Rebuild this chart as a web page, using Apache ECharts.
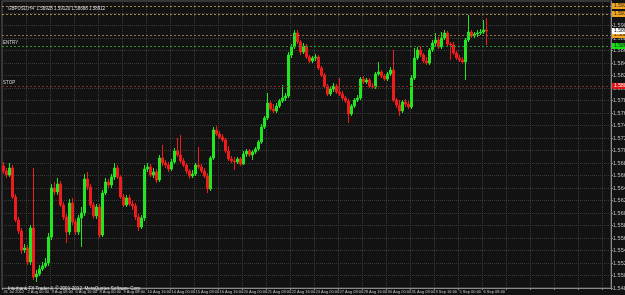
<!DOCTYPE html>
<html><head><meta charset="utf-8">
<script src="https://cdn.jsdelivr.net/npm/echarts@6/dist/echarts.min.js"></script>
<style>html,body{margin:0;padding:0;background:#121212;}#c{width:625px;height:295px;}</style>
</head><body><div id="c"></div>
<script>
const symbolTitle = 'GBPUSD,H4';
const copyrightText = 'Interbank FX Trader 4, \u00a9 2001-2012, MetaQuotes Software Corp.';
const tickLabels = ['31 Jul 2012','2 Aug 00:00','3 Aug 08:00','6 Aug 16:00','8 Aug 00:00','9 Aug 08:00','10 Aug 16:00','14 Aug 00:00','15 Aug 08:00','16 Aug 16:00','20 Aug 00:00','21 Aug 08:00','22 Aug 16:00','24 Aug 00:00','27 Aug 08:00','28 Aug 16:00','30 Aug 00:00','31 Aug 08:00','3 Sep 16:00','5 Sep 00:00','6 Sep 08:00'];
const barsPerLabel = 8;
const barSlots = 203;

const opens = [1.56752,1.56672,1.56608,1.56720,1.56256,1.55888,1.55712,1.55408,1.55440,1.55216,
1.55760,1.54976,1.55024,1.55104,1.55152,1.55200,1.55616,1.56400,1.56336,1.56464,
1.56128,1.55936,1.55696,1.56160,1.55856,1.55696,1.55920,1.56000,1.56544,1.56416,
1.56128,1.55952,1.56096,1.55648,1.56320,1.56496,1.56448,1.56576,1.56720,1.56576,
1.56256,1.56128,1.56240,1.56144,1.56112,1.55936,1.55776,1.55920,1.56704,1.56736,
1.56608,1.56656,1.56528,1.56880,1.56800,1.56768,1.56704,1.56816,1.56992,1.56928,
1.56832,1.56768,1.56672,1.56592,1.56624,1.56768,1.56736,1.56672,1.56592,1.56384,
1.56880,1.57328,1.57264,1.57216,1.57168,1.56992,1.56864,1.56832,1.56816,1.56864,
1.56784,1.56944,1.56992,1.56928,1.56976,1.57024,1.57136,1.57376,1.57520,1.57760,
1.57664,1.57632,1.57712,1.57792,1.57840,1.57872,1.58528,1.58656,1.58880,1.58736,
1.58576,1.58672,1.58496,1.58432,1.58480,1.58496,1.58320,1.58208,1.58032,1.57904,
1.57984,1.58032,1.57936,1.57904,1.57840,1.57792,1.57584,1.57712,1.57808,1.57840,
1.58144,1.58096,1.58128,1.58032,1.58016,1.58224,1.58256,1.58192,1.58144,1.58224,
1.58288,1.57808,1.57728,1.57632,1.57776,1.57744,1.57696,1.58160,1.58480,1.58608,
1.58528,1.58432,1.58400,1.58608,1.58720,1.58768,1.58656,1.58800,1.58880,1.58704,
1.58688,1.58560,1.58480,1.58448,1.58416,1.58768,1.58896,1.58832,1.58864,1.58880,
1.58896,1.58928];

const closes = [1.56672,1.56608,1.56720,1.56256,1.55888,1.55712,1.55408,1.55440,1.55216,1.55760,
1.54976,1.55024,1.55104,1.55152,1.55200,1.55616,1.56400,1.56336,1.56464,1.56128,
1.55936,1.55696,1.56160,1.55856,1.55696,1.55920,1.56000,1.56544,1.56416,1.56128,
1.55952,1.56096,1.55648,1.56320,1.56496,1.56448,1.56576,1.56720,1.56576,1.56256,
1.56128,1.56240,1.56144,1.56112,1.55936,1.55776,1.55920,1.56704,1.56736,1.56608,
1.56656,1.56528,1.56880,1.56800,1.56768,1.56704,1.56816,1.56992,1.56928,1.56832,
1.56768,1.56672,1.56592,1.56624,1.56768,1.56736,1.56672,1.56592,1.56384,1.56880,
1.57328,1.57264,1.57216,1.57168,1.56992,1.56864,1.56832,1.56816,1.56864,1.56784,
1.56944,1.56992,1.56928,1.56976,1.57024,1.57136,1.57376,1.57520,1.57760,1.57664,
1.57632,1.57712,1.57792,1.57840,1.57872,1.58528,1.58656,1.58880,1.58736,1.58576,
1.58672,1.58496,1.58432,1.58480,1.58496,1.58320,1.58208,1.58032,1.57904,1.57984,
1.58032,1.57936,1.57904,1.57840,1.57792,1.57584,1.57712,1.57808,1.57840,1.58144,
1.58096,1.58128,1.58032,1.58016,1.58224,1.58256,1.58192,1.58144,1.58224,1.58288,
1.57808,1.57728,1.57632,1.57776,1.57744,1.57696,1.58160,1.58480,1.58608,1.58528,
1.58432,1.58400,1.58608,1.58720,1.58768,1.58656,1.58800,1.58880,1.58704,1.58688,
1.58560,1.58480,1.58448,1.58416,1.58768,1.58896,1.58832,1.58864,1.58880,1.58896,
1.58928,1.58912];

const highs = [1.56816,1.56720,1.56800,1.56768,1.56304,1.55936,1.55760,1.55504,1.55488,1.55808,
1.56720,1.55088,1.55168,1.55216,1.55280,1.55680,1.56464,1.56496,1.56560,1.56512,
1.56176,1.55984,1.56224,1.56240,1.55904,1.55968,1.56096,1.56624,1.56656,1.56464,
1.56176,1.56144,1.56144,1.56368,1.56560,1.56544,1.56624,1.56800,1.56768,1.56608,
1.56304,1.56288,1.56288,1.56208,1.56160,1.55984,1.55968,1.56768,1.56800,1.56784,
1.56720,1.56704,1.56928,1.57088,1.56848,1.56816,1.56864,1.57040,1.57200,1.57248,
1.56880,1.56800,1.56704,1.56688,1.56800,1.57056,1.56784,1.56720,1.56640,1.56912,
1.57376,1.57392,1.57312,1.57264,1.57200,1.57072,1.56912,1.56896,1.56896,1.56896,
1.56992,1.57024,1.57024,1.57008,1.57056,1.57168,1.57424,1.57552,1.57920,1.57792,
1.57744,1.57760,1.57824,1.58048,1.57920,1.58576,1.58704,1.58928,1.58928,1.58768,
1.58720,1.58704,1.58528,1.58512,1.58544,1.58528,1.58352,1.58240,1.58064,1.58032,
1.58080,1.58064,1.58160,1.57952,1.57872,1.57824,1.57744,1.57840,1.57888,1.58176,
1.58192,1.58160,1.58160,1.58080,1.58256,1.58416,1.58288,1.58224,1.58256,1.58336,
1.58608,1.57840,1.57808,1.57808,1.57824,1.57792,1.58208,1.58640,1.58656,1.58672,
1.58560,1.58496,1.58640,1.58768,1.58880,1.58816,1.58896,1.58928,1.58912,1.58736,
1.58736,1.58592,1.58528,1.58496,1.58800,1.59168,1.58928,1.58896,1.58928,1.58944,
1.59088,1.59120];

const lows = [1.56624,1.56560,1.56576,1.56224,1.55856,1.55664,1.55344,1.55360,1.55168,1.55168,
1.54928,1.54896,1.54992,1.55072,1.55120,1.55152,1.55568,1.56288,1.56288,1.56096,
1.55888,1.55520,1.55648,1.55808,1.55648,1.55648,1.55456,1.55952,1.56368,1.56080,
1.55904,1.55904,1.55600,1.55616,1.56288,1.56400,1.56400,1.56528,1.56544,1.56224,
1.56096,1.56096,1.56112,1.56048,1.55888,1.55712,1.55744,1.55872,1.56656,1.56576,
1.56560,1.56480,1.56496,1.56752,1.56720,1.56656,1.56672,1.56784,1.56896,1.56800,
1.56736,1.56624,1.56544,1.56560,1.56592,1.56704,1.56640,1.56560,1.56320,1.56352,
1.56848,1.57232,1.57184,1.57136,1.56960,1.56832,1.56800,1.56688,1.56784,1.56752,
1.56768,1.56896,1.56896,1.56848,1.56944,1.56992,1.57104,1.57344,1.57488,1.57632,
1.57600,1.57600,1.57680,1.57760,1.57792,1.57840,1.58480,1.58624,1.58704,1.58528,
1.58544,1.58464,1.58400,1.58400,1.58432,1.58288,1.58176,1.58000,1.57872,1.57872,
1.57936,1.57904,1.57872,1.57808,1.57760,1.57440,1.57552,1.57680,1.57776,1.57808,
1.58064,1.58064,1.58000,1.57984,1.57984,1.58192,1.58160,1.58112,1.58112,1.58192,
1.57776,1.57680,1.57552,1.57600,1.57696,1.57664,1.57664,1.58128,1.58448,1.58496,
1.58400,1.58368,1.58368,1.58576,1.58672,1.58624,1.58624,1.58768,1.58672,1.58448,
1.58528,1.58448,1.58416,1.58384,1.58128,1.58736,1.58800,1.58800,1.58816,1.58848,
1.58864,1.58688];

const orangeLevels = [1.59312, 1.59184, 1.58848];
const entryPrice = 1.58672;
const stopPrice = 1.58032;

const yMin = 1.548, yMax = 1.59392, yStep = 0.002;

const FONT = 'Liberation Sans';
const CLEAR = 'rgba(0,0,0,0)';
const last = opens.length - 1;
const bidPrice = closes[last];
const headline = symbolTitle + '  ' + [opens[last], highs[last], lows[last], closes[last]].map(v => v.toFixed(5)).join(' ');

const slots = Array.from({length: barSlots}, (_, i) => String(i));
const candles = opens.map((o, i) => [o, closes[i], lows[i], highs[i]]);

function priceTag(v, bg, fg, lineColor) {
  return {
    name: 'tag' + v,
    yAxis: v,
    lineStyle: {color: lineColor, type: [2, 2], width: 1},
    label: {show: true, position: 'end', distance: 1, formatter: v.toFixed(5),
      backgroundColor: bg, color: fg, fontSize: 5, fontFamily: FONT, padding: [1, 6, 0, 2]}
  };
}
function sideText(v, txt) {
  return {
    name: 'txt' + txt,
    yAxis: v,
    lineStyle: {color: CLEAR, width: 1},
    label: {show: true, position: 'insideStartTop', distance: 1, formatter: txt,
      color: '#d8d8d8', fontSize: 4.5, fontFamily: FONT}
  };
}

const chart = echarts.init(document.getElementById('c'), null, {renderer: 'canvas'});
chart.setOption({
  backgroundColor: '#121212',
  animation: false,
  title: [
    {text: headline, left: 3, top: 1, textStyle: {color: '#dcdcdc', fontSize: 4.5, fontWeight: 'normal', fontFamily: FONT}},
    {text: copyrightText, left: 3, top: 281, textStyle: {color: '#e6e6e6', fontSize: 4.6, fontWeight: 'normal', fontFamily: FONT}}
  ],
  grid: {left: 2, right: 14, top: 1, bottom: 7, containLabel: false, outerBoundsMode: 'none',
    show: true, borderColor: '#5a5a5a', borderWidth: 1, backgroundColor: 'transparent'},
  xAxis: {
    type: 'category', data: slots, boundaryGap: true,
    axisLine: {show: true, lineStyle: {color: '#8a8a8a', width: 1}},
    axisTick: {show: true, interval: barsPerLabel - 1, length: 2, lineStyle: {color: '#8a8a8a'}},
    axisLabel: {
      interval: barsPerLabel - 1, align: 'left', margin: 2, fontSize: 4, color: '#c4c4c4', fontFamily: FONT,
      formatter: (v, idx) => (idx % barsPerLabel === 0 && idx / barsPerLabel < tickLabels.length) ? tickLabels[idx / barsPerLabel] : ''
    },
    splitLine: {show: true, interval: barsPerLabel - 1, lineStyle: {color: '#3a3a3a', type: 'dotted', width: 1}}
  },
  yAxis: {
    type: 'value', position: 'right', min: yMin, max: yMax, interval: yStep,
    axisLine: {show: true, lineStyle: {color: '#8a8a8a', width: 1}},
    axisTick: {show: true, length: 2, lineStyle: {color: '#8a8a8a'}},
    axisLabel: {fontSize: 5.5, color: '#c4c4c4', margin: 2, fontFamily: FONT, showMaxLabel: false,
      formatter: v => v.toFixed(5)},
    splitLine: {show: true, lineStyle: {color: '#3a3a3a', type: 'dotted', width: 1}}
  },
  series: [
    {
      type: 'candlestick', data: candles, barWidth: 2,
      itemStyle: {color: '#22e622', color0: '#f01c1c', borderColor: '#22e622', borderColor0: '#f01c1c', borderWidth: 1},
      markLine: {
        symbol: 'none', silent: true, animation: false, precision: 5,
        data: [
          priceTag(orangeLevels[0], '#f2a421', '#1a1a1a', '#a8844a'),
          priceTag(orangeLevels[1], '#f2a421', '#1a1a1a', '#a8844a'),
          priceTag(orangeLevels[2], '#f2a421', '#1a1a1a', '#9c7240'),
          priceTag(entryPrice, '#18e018', '#1a1a1a', '#2a962a'),
          priceTag(stopPrice, '#e01414', '#ffffff', '#803024'),
          priceTag(bidPrice, '#ffffff', '#000000', CLEAR),
          sideText(entryPrice, 'ENTRY'),
          sideText(stopPrice, 'STOP')
        ]
      }
    }
  ]
});
</script></body></html>
